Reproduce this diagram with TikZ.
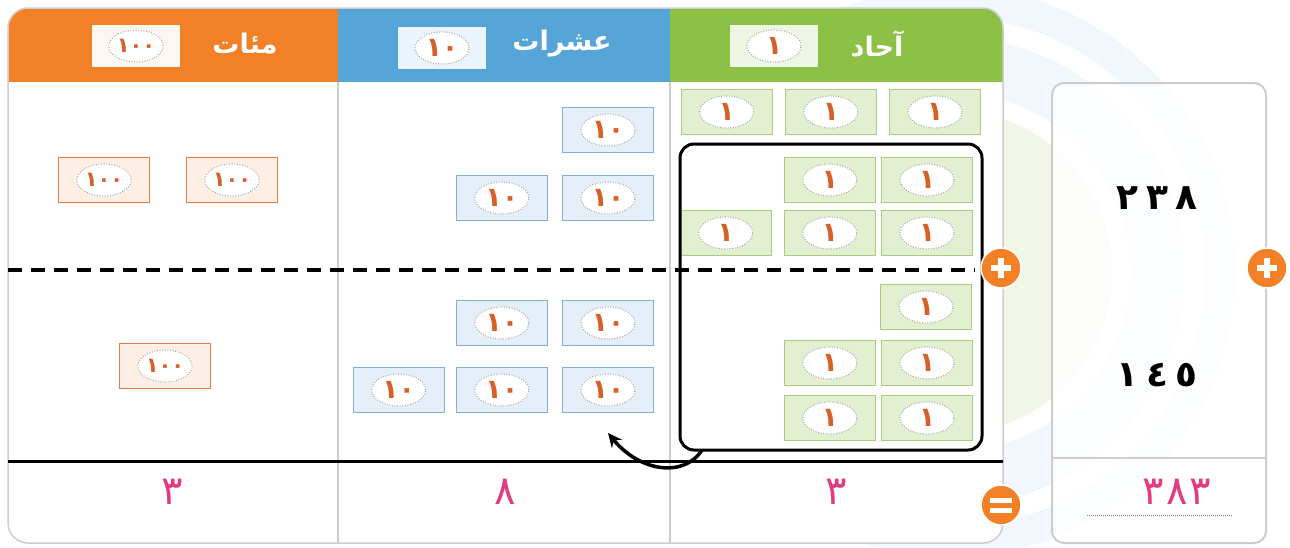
\documentclass[tikz,border=0pt]{standalone}
\usepackage{fontspec}
\usetikzlibrary{positioning,arrows.meta,shapes.geometric}
\TeXXeTstate=1
\newfontfamily\arabicfont[Script=Arabic]{DejaVu Sans}
\definecolor{hdrorange}{RGB}{241,128,38}
\definecolor{hdrblue}{RGB}{86,165,217}
\definecolor{hdrgreen}{RGB}{140,193,70}
\definecolor{onefill}{RGB}{226,239,208}
\definecolor{onedraw}{RGB}{170,204,128}
\definecolor{tenfill}{RGB}{228,239,250}
\definecolor{tendraw}{RGB}{128,175,215}
\definecolor{hunfill}{RGB}{253,239,228}
\definecolor{hundraw}{RGB}{226,126,78}
\definecolor{coinnum}{RGB}{214,96,40}
\definecolor{sumpink}{RGB}{228,58,128}
\definecolor{gridgray}{RGB}{205,205,205}
\definecolor{ringblue}{RGB}{241,247,252}
\definecolor{ringgreen}{RGB}{242,246,230}

\begin{document}
\begin{tikzpicture}[x=1pt,y=-1pt,
    coin/.style={ellipse, anchor=center, draw=gray!70, fill=white, line width=1.1pt, dash pattern=on 0.9pt off 1.7pt,
        minimum width=54pt, minimum height=32pt, inner sep=0pt, text=coinnum,
        font=\arabicfont\bfseries\fontsize{27}{27}\selectfont},
    note/.style n args={3}{rectangle, draw=#1, fill=#2, line width=1.2pt, minimum width=91pt,
        minimum height=45pt, inner sep=0pt,
        path picture={\node[coin] at (path picture bounding box.center) {#3};}},
    onebox/.style={note={onedraw}{onefill}{١}},
    tenbox/.style={note={tendraw}{tenfill}{١٠}},
    hunbox/.style={note={hundraw}{hunfill}{\fontsize{21}{21}\selectfont ١٠٠}},
    badge/.style n args={2}{rectangle, fill=#1, minimum width=88pt, minimum height=42pt, inner sep=0pt,
        path picture={\node[coin] at (path picture bounding box.center) {#2};}},
    hdrtext/.style={text=white, font=\arabicfont\bfseries\fontsize{27}{30}\selectfont},
    sumdigit/.style={text=sumpink, font=\arabicfont\fontsize{40}{42}\selectfont},
    addend/.style={text=black, font=\arabicfont\bfseries\fontsize{36}{38}\selectfont},
    opcirc/.style={circle, fill=hdrorange, draw=white, line width=1.5pt, minimum size=40pt, inner sep=0pt},
    carryline/.style={black, line width=3pt}
  ]
  \useasboundingbox (0,0) rectangle (1290,547);
  \fill[white] (0,0) rectangle (1290,547);

  % rings behind everything
  \fill[ringblue] (950,272) circle (285pt);
  \fill[white] (950,272) circle (255pt);
  \fill[ringblue] (950,272) circle (235pt);
  \fill[white] (950,272) circle (180pt);
  \fill[ringgreen] (950,272) circle (162pt);

  % table
  \fill[white, rounded corners=20pt] (8,8) rectangle (1003,543);
  \begin{scope}
    \clip[rounded corners=22pt] (8,8) rectangle (1003,543);
    \fill[hdrorange] (8,8) rectangle (338,82);
    \fill[hdrblue] (338,8) rectangle (670,82);
    \fill[hdrgreen] (670,8) rectangle (1003,82);
  \end{scope}
  \draw[gridgray, line width=1.5pt, rounded corners=20pt] (8,8) rectangle (1003,543);
  \draw[gridgray, line width=1.2pt] (338,82) -- (338,543);
  \draw[gridgray, line width=1.2pt] (670,82) -- (670,543);

  % headers
  \node[badge={white!93!hdrorange}{\fontsize{21}{21}\selectfont ١٠٠}] (bH) at (136,46) {};
  \node[hdrtext] (hH) at (245,44) {\beginR مئات\endR};
  \node[badge={white!88!hdrblue}{١٠}] (bT) at (442,48) {};
  \node[hdrtext] (hT) at (562,44) {\beginR عشرات\endR};
  \node[badge={white!85!hdrgreen}{١}] (bO) at (774,46) {};
  \node[hdrtext] (hO) at (877,44) {\beginR آحاد\endR};

  % rows
  \draw[black, line width=3.5pt, dash pattern=on 14pt off 9pt] (8,270) -- (975,270);
  \draw[black, line width=3pt] (8,461) -- (1003,461);

  % hundreds
  \node[hunbox] (h1) at (104,180) {};
  \node[hunbox] (h2) at (232,180) {};
  \node[hunbox] (h3) at (165,366) {};

  % tens
  \node[tenbox] (t1) at (608,130) {};
  \node[tenbox] (t2) at (608,198) {};
  \node[tenbox] (t3) [left=14pt of t2] {};
  \node[tenbox] (t4) at (608,323) {};
  \node[tenbox] (t5) [left=14pt of t4] {};
  \node[tenbox] (t6) at (608,390) {};
  \node[tenbox] (t7) [left=14pt of t6] {};
  \node[tenbox] (t8) [left=11pt of t7] {};

  % ones
  \node[onebox] (o1) at (935,112) {};
  \node[onebox] (o2) [left=12pt of o1] {};
  \node[onebox] (o3) [left=12pt of o2] {};
  \node[onebox] (o4) at (927,180) {};
  \node[onebox] (o5) [left=5pt of o4] {};
  \node[onebox] (o6) at (927,233) {};
  \node[onebox] (o7) [left=5pt of o6] {};
  \node[onebox] (o8) [left=12pt of o7] {};
  \node[onebox] (o9) at (926,307) {};
  \node[onebox] (o10) at (927,363) {};
  \node[onebox] (o11) [left=5pt of o10] {};
  \node[onebox] (o12) at (927,418) {};
  \node[onebox] (o13) [left=5pt of o12] {};

  % regrouping box and carry
  \node[draw, carryline, rounded corners=14pt, minimum width=302pt, minimum height=306pt] (carry) at (831,297) {};
  \coordinate (arrS) at (702,450);
  \coordinate (arrE) at (608,433);
  \draw[carryline, line width=3.5pt, -{Stealth[length=14pt, width=13pt]}] (arrS) .. controls (684,478) and (640,472) .. (arrE);

  % sums
  \node[sumdigit] (sH) at (172,492) {٣};
  \node[sumdigit] (sT) at (505,492) {٨};
  \node[sumdigit] (sO) at (836,492) {٣};

  % right box
  \draw[gridgray, line width=2pt, fill=white, fill opacity=0.8, rounded corners=12pt] (1052,83) rectangle (1266,543);
  \draw[gridgray, line width=2pt] (1052,458) -- (1266,458);
  \node[addend] (n1) at (1157,198) {\beginL ٢\kern8pt ٣\kern8pt ٨\endL};
  \node[addend] (n2) at (1157,375) {\beginL ١\kern8pt ٤\kern8pt ٥\endL};
  \node[sumdigit] (n3) at (1177,492) {\beginL ٣\kern2pt ٨\kern2pt ٣\endL};
  \draw[gray, line width=1pt, dash pattern=on 1pt off 1pt] (1087,515) -- (1232,515);

  % operator circles
  \node[opcirc] (p1) at (1001,268) {};
  \node[opcirc] (p2) at (1267,268) {};
  \node[opcirc] (eq) at (1001,505) {};
  \foreach \c in {p1,p2} {
    \draw[white, line width=6pt] ([xshift=-10pt]\c.center) -- ([xshift=10pt]\c.center);
    \draw[white, line width=6pt] ([yshift=-10pt]\c.center) -- ([yshift=10pt]\c.center);
  }
  \draw[white, line width=5pt] ([xshift=-11pt, yshift=-5pt]eq.center) -- ([xshift=11pt, yshift=-5pt]eq.center);
  \draw[white, line width=5pt] ([xshift=-11pt, yshift=5pt]eq.center) -- ([xshift=11pt, yshift=5pt]eq.center);
\end{tikzpicture}
\end{document}
